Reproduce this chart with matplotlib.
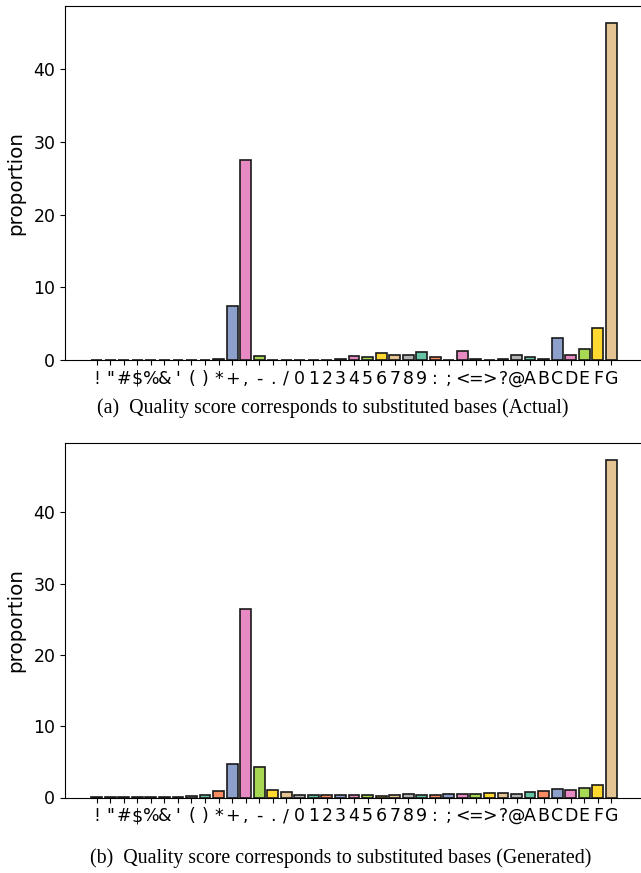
import matplotlib
matplotlib.use("Agg")
import matplotlib.pyplot as plt

categories = [chr(c) for c in range(33, 72)]  # '!' .. 'G'

actual = [0.0, 0.0, 0.0, 0.0, 0.0, 0.0, 0.0, 0.0, 0.0, 0.1,
          7.4, 27.5, 0.5, 0.0, 0.0, 0.0, 0.0, 0.0, 0.2, 0.6,
          0.4, 1.0, 0.7, 0.75, 1.15, 0.45, 0.05, 1.2, 0.1, 0.05,
          0.15, 0.7, 0.4, 0.1, 3.0, 0.75, 1.45, 4.4, 46.4]

generated = [0.02, 0.02, 0.02, 0.03, 0.03, 0.04, 0.1, 0.2, 0.37, 0.87,
             4.7, 26.45, 4.3, 1.0, 0.73, 0.41, 0.37, 0.32, 0.32, 0.32,
             0.3, 0.28, 0.37, 0.46, 0.41, 0.41, 0.46, 0.5, 0.55, 0.64,
             0.64, 0.55, 0.73, 0.87, 1.15, 1.05, 1.3, 1.7, 47.3]

captions = ["(a)  Quality score corresponds to substituted bases (Actual)",
            "(b)  Quality score corresponds to substituted bases (Generated)"]

set2 = ['#66c2a5', '#fc8d62', '#8da0cb', '#e78ac3',
        '#a6d854', '#ffd92f', '#e5c494', '#b3b3b3']

W, H = 641, 873
fig = plt.figure(figsize=(W / 100, H / 100), dpi=100)

def px_axes(left, top, right, bottom):
    return fig.add_axes([left / W, 1 - bottom / H, (right - left) / W, (bottom - top) / H])

ax1 = px_axes(65, 5.7, 643, 360)
ax2 = px_axes(65, 443.3, 643, 797.5)

x = list(range(len(categories)))
colors = [set2[i % 8] for i in x]
for ax, vals in ((ax1, actual), (ax2, generated)):
    ax.bar(x, vals, width=0.8, color=colors, edgecolor='#1a1a1a', linewidth=1.2)
    ax.set_xticks(x)
    ax.set_xticklabels(categories, fontsize=12.5)
    ax.tick_params(axis='y', labelsize=12.5)
    ax.set_ylabel('proportion', fontsize=14.3)
    ax.yaxis.set_label_coords(-0.069, 0.5)
    ax.set_yticks([0, 10, 20, 30, 40])

fig.text(333 / W, 1 - 408 / H, captions[0], ha='center', va='center',
         family='Liberation Serif', fontsize=14.3)
fig.text(341 / W, 1 - 858 / H, captions[1], ha='center', va='center',
         family='Liberation Serif', fontsize=14.3)

fig.savefig('out.png', dpi=100)
